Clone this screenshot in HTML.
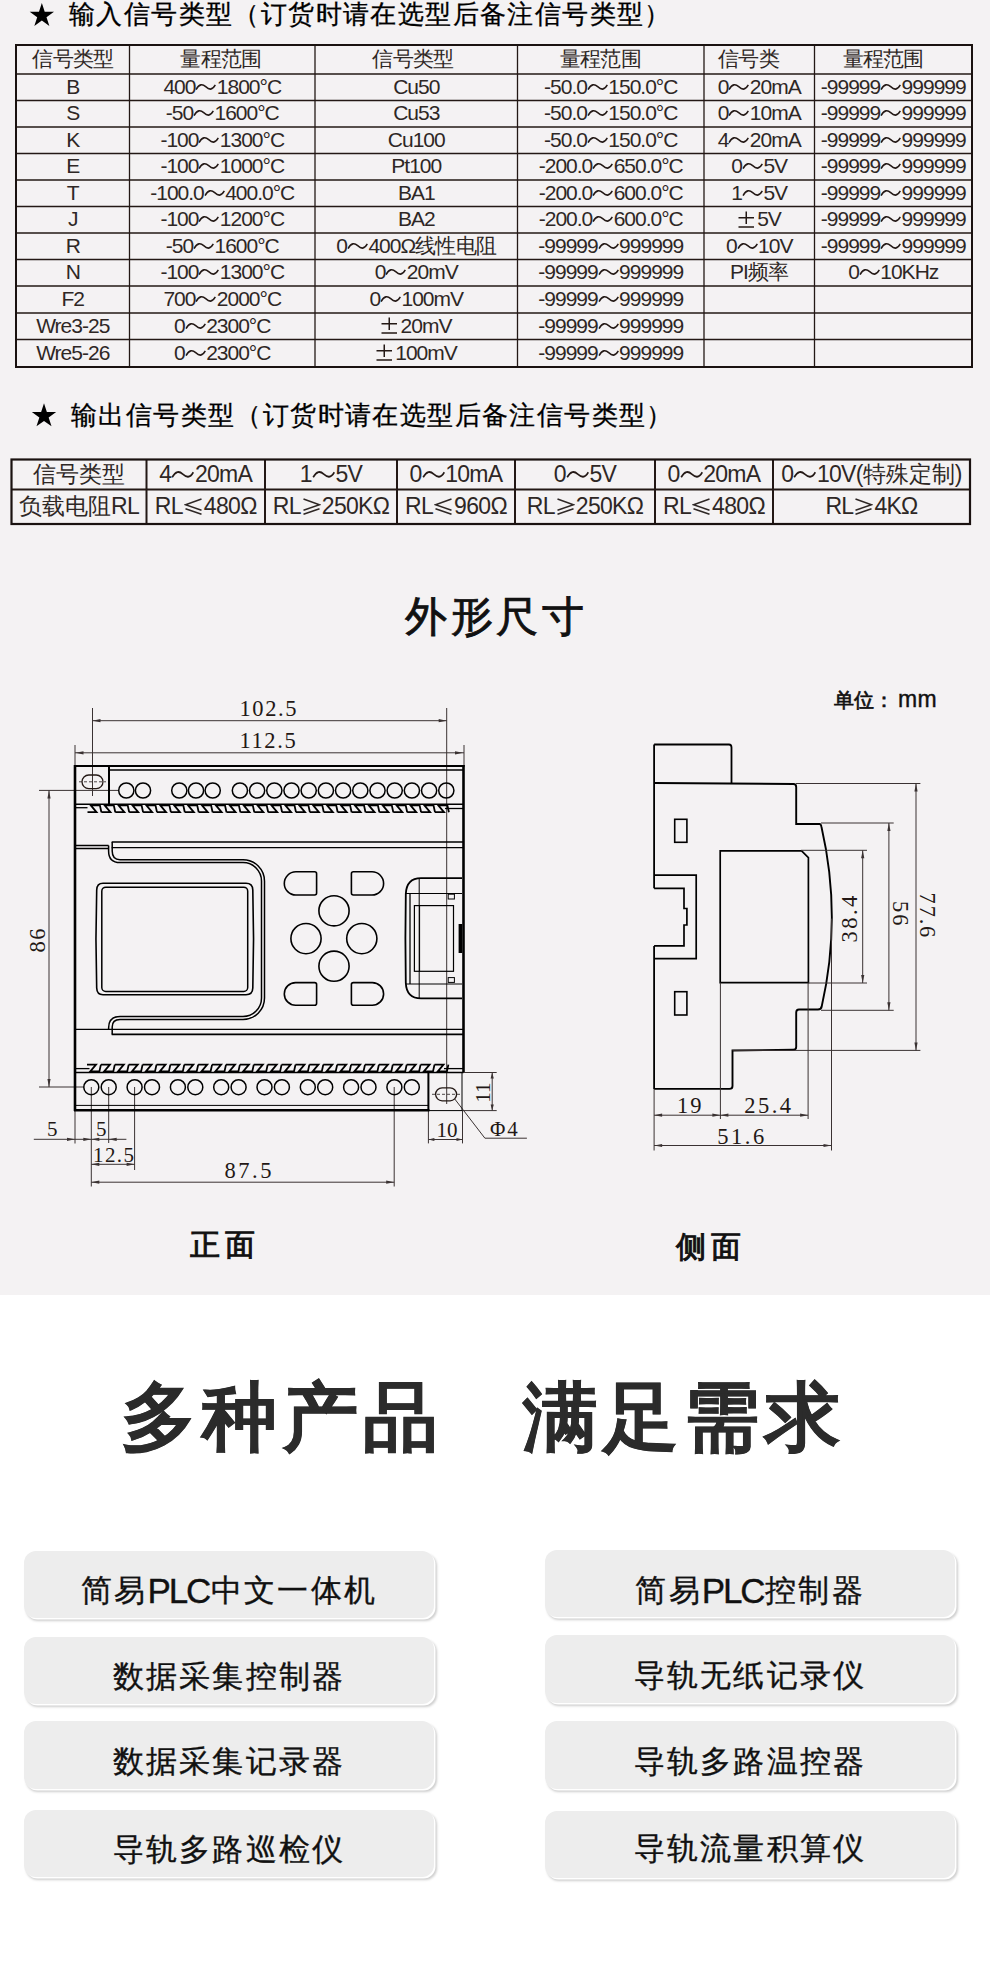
<!DOCTYPE html><html><head><meta charset="utf-8"><style>
html,body{margin:0;padding:0}
body{width:990px;height:1985px;position:relative;overflow:hidden;background:#fff;font-family:"Liberation Sans",sans-serif;color:#231815}
.a{position:absolute;white-space:nowrap}
.c{position:absolute;display:flex;align-items:center;justify-content:center;white-space:nowrap}
.t1{font-size:20px}
.w{display:inline-block;vertical-align:middle}
</style></head><body>
<svg width="0" height="0" style="position:absolute"><defs>
<path id="wv" d="M1 6.5 C4 1.5 7 1.5 10 4 S16 7.5 19 2.5" fill="none" stroke="#231815" stroke-width="1.4"/>
</defs></svg>

<div class="a" style="left:0;top:0;width:990px;height:1295px;background:#f4f2f3"></div>
<svg class="a" style="left:0;top:0" width="990" height="450"><polygon points="41.85,2.90 44.72,11.74 54.02,11.74 46.50,17.21 49.37,26.06 41.85,20.59 34.33,26.06 37.20,17.21 29.68,11.74 38.98,11.74" fill="#000"/></svg>
<div class="a" style="left:69px;top:1px;font-size:26px;line-height:26px;letter-spacing:1.4px;color:#000;-webkit-text-stroke:0.3px #000">输入信号类型（订货时请在选型后备注信号类型）</div>
<svg class="a" style="left:0;top:0" width="990" height="1295"><line x1="16" y1="74" x2="972" y2="74" stroke="#231815" stroke-width="1.3"/><line x1="16" y1="100.5" x2="972" y2="100.5" stroke="#231815" stroke-width="1.3"/><line x1="16" y1="127" x2="972" y2="127" stroke="#231815" stroke-width="1.3"/><line x1="16" y1="153.5" x2="972" y2="153.5" stroke="#231815" stroke-width="1.3"/><line x1="16" y1="180" x2="972" y2="180" stroke="#231815" stroke-width="1.3"/><line x1="16" y1="206.5" x2="972" y2="206.5" stroke="#231815" stroke-width="1.3"/><line x1="16" y1="233" x2="972" y2="233" stroke="#231815" stroke-width="1.3"/><line x1="16" y1="259.5" x2="972" y2="259.5" stroke="#231815" stroke-width="1.3"/><line x1="16" y1="286" x2="972" y2="286" stroke="#231815" stroke-width="1.3"/><line x1="16" y1="313" x2="972" y2="313" stroke="#231815" stroke-width="1.3"/><line x1="16" y1="339.5" x2="972" y2="339.5" stroke="#231815" stroke-width="1.3"/><line x1="129.5" y1="45" x2="129.5" y2="367" stroke="#231815" stroke-width="1.3"/><line x1="315" y1="45" x2="315" y2="367" stroke="#231815" stroke-width="1.3"/><line x1="517.5" y1="45" x2="517.5" y2="367" stroke="#231815" stroke-width="1.3"/><line x1="704" y1="45" x2="704" y2="367" stroke="#231815" stroke-width="1.3"/><line x1="814.5" y1="45" x2="814.5" y2="367" stroke="#231815" stroke-width="1.3"/><rect x="16" y="45" width="956" height="322" fill="none" stroke="#1a1210" stroke-width="2.0"/></svg>
<div class="c" style="left:16px;top:44.5px;width:113.5px;height:29px;font-size:21px;letter-spacing:-1px;color:#2e2725;"><span style="font-size:21px;letter-spacing:-0.75px">信号类型</span></div>
<div class="c" style="left:129.5px;top:44.5px;width:185.5px;height:29px;font-size:21px;letter-spacing:-1px;color:#2e2725;transform:translateX(-1.5px)"><span style="font-size:21px;letter-spacing:-0.75px">量程范围</span></div>
<div class="c" style="left:315px;top:44.5px;width:202.5px;height:29px;font-size:21px;letter-spacing:-1px;color:#2e2725;transform:translateX(-3.5px)"><span style="font-size:21px;letter-spacing:-0.75px">信号类型</span></div>
<div class="c" style="left:517.5px;top:44.5px;width:186.5px;height:29px;font-size:21px;letter-spacing:-1px;color:#2e2725;transform:translateX(-10.5px)"><span style="font-size:21px;letter-spacing:-0.75px">量程范围</span></div>
<div class="c" style="left:704px;top:44.5px;width:110.5px;height:29px;font-size:21px;letter-spacing:-1px;color:#2e2725;justify-content:flex-start;padding-left:14px;box-sizing:border-box"><span style="font-size:21px;letter-spacing:-0.75px">信号类</span></div>
<div class="c" style="left:814.5px;top:44.5px;width:157.5px;height:29px;font-size:21px;letter-spacing:-1px;color:#2e2725;transform:translateX(-10.2px)"><span style="font-size:21px;letter-spacing:-0.75px">量程范围</span></div>
<div class="c" style="left:16px;top:73.5px;width:113.5px;height:26.5px;font-size:21px;letter-spacing:-1px;color:#2e2725;">B</div>
<div class="c" style="left:129.5px;top:73.5px;width:185.5px;height:26.5px;font-size:21px;letter-spacing:-1px;color:#2e2725;">400<svg class="w" width="21.4" height="10.5" viewBox="0 0 20 9" preserveAspectRatio="none"><use href="#wv"/></svg>1800°C</div>
<div class="c" style="left:315px;top:73.5px;width:202.5px;height:26.5px;font-size:21px;letter-spacing:-1px;color:#2e2725;">Cu50</div>
<div class="c" style="left:517.5px;top:73.5px;width:186.5px;height:26.5px;font-size:21px;letter-spacing:-1px;color:#2e2725;">-50.0<svg class="w" width="21.4" height="10.5" viewBox="0 0 20 9" preserveAspectRatio="none"><use href="#wv"/></svg>150.0°C</div>
<div class="c" style="left:704px;top:73.5px;width:110.5px;height:26.5px;font-size:21px;letter-spacing:-1px;color:#2e2725;">0<svg class="w" width="21.4" height="10.5" viewBox="0 0 20 9" preserveAspectRatio="none"><use href="#wv"/></svg>20mA</div>
<div class="c" style="left:814.5px;top:73.5px;width:157.5px;height:26.5px;font-size:21px;letter-spacing:-1px;color:#2e2725;">-99999<svg class="w" width="21.4" height="10.5" viewBox="0 0 20 9" preserveAspectRatio="none"><use href="#wv"/></svg>999999</div>
<div class="c" style="left:16px;top:100.0px;width:113.5px;height:26.5px;font-size:21px;letter-spacing:-1px;color:#2e2725;">S</div>
<div class="c" style="left:129.5px;top:100.0px;width:185.5px;height:26.5px;font-size:21px;letter-spacing:-1px;color:#2e2725;">-50<svg class="w" width="21.4" height="10.5" viewBox="0 0 20 9" preserveAspectRatio="none"><use href="#wv"/></svg>1600°C</div>
<div class="c" style="left:315px;top:100.0px;width:202.5px;height:26.5px;font-size:21px;letter-spacing:-1px;color:#2e2725;">Cu53</div>
<div class="c" style="left:517.5px;top:100.0px;width:186.5px;height:26.5px;font-size:21px;letter-spacing:-1px;color:#2e2725;">-50.0<svg class="w" width="21.4" height="10.5" viewBox="0 0 20 9" preserveAspectRatio="none"><use href="#wv"/></svg>150.0°C</div>
<div class="c" style="left:704px;top:100.0px;width:110.5px;height:26.5px;font-size:21px;letter-spacing:-1px;color:#2e2725;">0<svg class="w" width="21.4" height="10.5" viewBox="0 0 20 9" preserveAspectRatio="none"><use href="#wv"/></svg>10mA</div>
<div class="c" style="left:814.5px;top:100.0px;width:157.5px;height:26.5px;font-size:21px;letter-spacing:-1px;color:#2e2725;">-99999<svg class="w" width="21.4" height="10.5" viewBox="0 0 20 9" preserveAspectRatio="none"><use href="#wv"/></svg>999999</div>
<div class="c" style="left:16px;top:126.5px;width:113.5px;height:26.5px;font-size:21px;letter-spacing:-1px;color:#2e2725;">K</div>
<div class="c" style="left:129.5px;top:126.5px;width:185.5px;height:26.5px;font-size:21px;letter-spacing:-1px;color:#2e2725;">-100<svg class="w" width="21.4" height="10.5" viewBox="0 0 20 9" preserveAspectRatio="none"><use href="#wv"/></svg>1300°C</div>
<div class="c" style="left:315px;top:126.5px;width:202.5px;height:26.5px;font-size:21px;letter-spacing:-1px;color:#2e2725;">Cu100</div>
<div class="c" style="left:517.5px;top:126.5px;width:186.5px;height:26.5px;font-size:21px;letter-spacing:-1px;color:#2e2725;">-50.0<svg class="w" width="21.4" height="10.5" viewBox="0 0 20 9" preserveAspectRatio="none"><use href="#wv"/></svg>150.0°C</div>
<div class="c" style="left:704px;top:126.5px;width:110.5px;height:26.5px;font-size:21px;letter-spacing:-1px;color:#2e2725;">4<svg class="w" width="21.4" height="10.5" viewBox="0 0 20 9" preserveAspectRatio="none"><use href="#wv"/></svg>20mA</div>
<div class="c" style="left:814.5px;top:126.5px;width:157.5px;height:26.5px;font-size:21px;letter-spacing:-1px;color:#2e2725;">-99999<svg class="w" width="21.4" height="10.5" viewBox="0 0 20 9" preserveAspectRatio="none"><use href="#wv"/></svg>999999</div>
<div class="c" style="left:16px;top:153.0px;width:113.5px;height:26.5px;font-size:21px;letter-spacing:-1px;color:#2e2725;">E</div>
<div class="c" style="left:129.5px;top:153.0px;width:185.5px;height:26.5px;font-size:21px;letter-spacing:-1px;color:#2e2725;">-100<svg class="w" width="21.4" height="10.5" viewBox="0 0 20 9" preserveAspectRatio="none"><use href="#wv"/></svg>1000°C</div>
<div class="c" style="left:315px;top:153.0px;width:202.5px;height:26.5px;font-size:21px;letter-spacing:-1px;color:#2e2725;">Pt100</div>
<div class="c" style="left:517.5px;top:153.0px;width:186.5px;height:26.5px;font-size:21px;letter-spacing:-1px;color:#2e2725;">-200.0<svg class="w" width="21.4" height="10.5" viewBox="0 0 20 9" preserveAspectRatio="none"><use href="#wv"/></svg>650.0°C</div>
<div class="c" style="left:704px;top:153.0px;width:110.5px;height:26.5px;font-size:21px;letter-spacing:-1px;color:#2e2725;">0<svg class="w" width="21.4" height="10.5" viewBox="0 0 20 9" preserveAspectRatio="none"><use href="#wv"/></svg>5V</div>
<div class="c" style="left:814.5px;top:153.0px;width:157.5px;height:26.5px;font-size:21px;letter-spacing:-1px;color:#2e2725;">-99999<svg class="w" width="21.4" height="10.5" viewBox="0 0 20 9" preserveAspectRatio="none"><use href="#wv"/></svg>999999</div>
<div class="c" style="left:16px;top:179.5px;width:113.5px;height:26.5px;font-size:21px;letter-spacing:-1px;color:#2e2725;">T</div>
<div class="c" style="left:129.5px;top:179.5px;width:185.5px;height:26.5px;font-size:21px;letter-spacing:-1px;color:#2e2725;">-100.0<svg class="w" width="21.4" height="10.5" viewBox="0 0 20 9" preserveAspectRatio="none"><use href="#wv"/></svg>400.0°C</div>
<div class="c" style="left:315px;top:179.5px;width:202.5px;height:26.5px;font-size:21px;letter-spacing:-1px;color:#2e2725;">BA1</div>
<div class="c" style="left:517.5px;top:179.5px;width:186.5px;height:26.5px;font-size:21px;letter-spacing:-1px;color:#2e2725;">-200.0<svg class="w" width="21.4" height="10.5" viewBox="0 0 20 9" preserveAspectRatio="none"><use href="#wv"/></svg>600.0°C</div>
<div class="c" style="left:704px;top:179.5px;width:110.5px;height:26.5px;font-size:21px;letter-spacing:-1px;color:#2e2725;">1<svg class="w" width="21.4" height="10.5" viewBox="0 0 20 9" preserveAspectRatio="none"><use href="#wv"/></svg>5V</div>
<div class="c" style="left:814.5px;top:179.5px;width:157.5px;height:26.5px;font-size:21px;letter-spacing:-1px;color:#2e2725;">-99999<svg class="w" width="21.4" height="10.5" viewBox="0 0 20 9" preserveAspectRatio="none"><use href="#wv"/></svg>999999</div>
<div class="c" style="left:16px;top:206.0px;width:113.5px;height:26.5px;font-size:21px;letter-spacing:-1px;color:#2e2725;">J</div>
<div class="c" style="left:129.5px;top:206.0px;width:185.5px;height:26.5px;font-size:21px;letter-spacing:-1px;color:#2e2725;">-100<svg class="w" width="21.4" height="10.5" viewBox="0 0 20 9" preserveAspectRatio="none"><use href="#wv"/></svg>1200°C</div>
<div class="c" style="left:315px;top:206.0px;width:202.5px;height:26.5px;font-size:21px;letter-spacing:-1px;color:#2e2725;">BA2</div>
<div class="c" style="left:517.5px;top:206.0px;width:186.5px;height:26.5px;font-size:21px;letter-spacing:-1px;color:#2e2725;">-200.0<svg class="w" width="21.4" height="10.5" viewBox="0 0 20 9" preserveAspectRatio="none"><use href="#wv"/></svg>600.0°C</div>
<div class="c" style="left:704px;top:206.0px;width:110.5px;height:26.5px;font-size:21px;letter-spacing:-1px;color:#2e2725;"><svg class="pm" width="16.5" height="17" style="vertical-align:-1.5px;margin-right:3px" viewBox="0 0 16.5 17"><path d="M0.5 6.8 H16 M8.25 0.5 V13 M0.5 16 H16" stroke="#231815" stroke-width="1.5" fill="none"/></svg>5V</div>
<div class="c" style="left:814.5px;top:206.0px;width:157.5px;height:26.5px;font-size:21px;letter-spacing:-1px;color:#2e2725;">-99999<svg class="w" width="21.4" height="10.5" viewBox="0 0 20 9" preserveAspectRatio="none"><use href="#wv"/></svg>999999</div>
<div class="c" style="left:16px;top:232.5px;width:113.5px;height:26.5px;font-size:21px;letter-spacing:-1px;color:#2e2725;">R</div>
<div class="c" style="left:129.5px;top:232.5px;width:185.5px;height:26.5px;font-size:21px;letter-spacing:-1px;color:#2e2725;">-50<svg class="w" width="21.4" height="10.5" viewBox="0 0 20 9" preserveAspectRatio="none"><use href="#wv"/></svg>1600°C</div>
<div class="c" style="left:315px;top:232.5px;width:202.5px;height:26.5px;font-size:21px;letter-spacing:-1px;color:#2e2725;">0<svg class="w" width="21.4" height="10.5" viewBox="0 0 20 9" preserveAspectRatio="none"><use href="#wv"/></svg>400Ω<span style="font-size:21px;letter-spacing:-0.75px">线性电阻</span></div>
<div class="c" style="left:517.5px;top:232.5px;width:186.5px;height:26.5px;font-size:21px;letter-spacing:-1px;color:#2e2725;">-99999<svg class="w" width="21.4" height="10.5" viewBox="0 0 20 9" preserveAspectRatio="none"><use href="#wv"/></svg>999999</div>
<div class="c" style="left:704px;top:232.5px;width:110.5px;height:26.5px;font-size:21px;letter-spacing:-1px;color:#2e2725;">0<svg class="w" width="21.4" height="10.5" viewBox="0 0 20 9" preserveAspectRatio="none"><use href="#wv"/></svg>10V</div>
<div class="c" style="left:814.5px;top:232.5px;width:157.5px;height:26.5px;font-size:21px;letter-spacing:-1px;color:#2e2725;">-99999<svg class="w" width="21.4" height="10.5" viewBox="0 0 20 9" preserveAspectRatio="none"><use href="#wv"/></svg>999999</div>
<div class="c" style="left:16px;top:259.0px;width:113.5px;height:26.5px;font-size:21px;letter-spacing:-1px;color:#2e2725;">N</div>
<div class="c" style="left:129.5px;top:259.0px;width:185.5px;height:26.5px;font-size:21px;letter-spacing:-1px;color:#2e2725;">-100<svg class="w" width="21.4" height="10.5" viewBox="0 0 20 9" preserveAspectRatio="none"><use href="#wv"/></svg>1300°C</div>
<div class="c" style="left:315px;top:259.0px;width:202.5px;height:26.5px;font-size:21px;letter-spacing:-1px;color:#2e2725;">0<svg class="w" width="21.4" height="10.5" viewBox="0 0 20 9" preserveAspectRatio="none"><use href="#wv"/></svg>20mV</div>
<div class="c" style="left:517.5px;top:259.0px;width:186.5px;height:26.5px;font-size:21px;letter-spacing:-1px;color:#2e2725;">-99999<svg class="w" width="21.4" height="10.5" viewBox="0 0 20 9" preserveAspectRatio="none"><use href="#wv"/></svg>999999</div>
<div class="c" style="left:704px;top:259.0px;width:110.5px;height:26.5px;font-size:21px;letter-spacing:-1px;color:#2e2725;">PI<span style="font-size:21px;letter-spacing:-0.75px">频率</span></div>
<div class="c" style="left:814.5px;top:259.0px;width:157.5px;height:26.5px;font-size:21px;letter-spacing:-1px;color:#2e2725;">0<svg class="w" width="21.4" height="10.5" viewBox="0 0 20 9" preserveAspectRatio="none"><use href="#wv"/></svg>10KHz</div>
<div class="c" style="left:16px;top:285.5px;width:113.5px;height:27px;font-size:21px;letter-spacing:-1px;color:#2e2725;">F2</div>
<div class="c" style="left:129.5px;top:285.5px;width:185.5px;height:27px;font-size:21px;letter-spacing:-1px;color:#2e2725;">700<svg class="w" width="21.4" height="10.5" viewBox="0 0 20 9" preserveAspectRatio="none"><use href="#wv"/></svg>2000°C</div>
<div class="c" style="left:315px;top:285.5px;width:202.5px;height:27px;font-size:21px;letter-spacing:-1px;color:#2e2725;">0<svg class="w" width="21.4" height="10.5" viewBox="0 0 20 9" preserveAspectRatio="none"><use href="#wv"/></svg>100mV</div>
<div class="c" style="left:517.5px;top:285.5px;width:186.5px;height:27px;font-size:21px;letter-spacing:-1px;color:#2e2725;">-99999<svg class="w" width="21.4" height="10.5" viewBox="0 0 20 9" preserveAspectRatio="none"><use href="#wv"/></svg>999999</div>
<div class="c" style="left:16px;top:312.5px;width:113.5px;height:26.5px;font-size:21px;letter-spacing:-1px;color:#2e2725;">Wre3-25</div>
<div class="c" style="left:129.5px;top:312.5px;width:185.5px;height:26.5px;font-size:21px;letter-spacing:-1px;color:#2e2725;">0<svg class="w" width="21.4" height="10.5" viewBox="0 0 20 9" preserveAspectRatio="none"><use href="#wv"/></svg>2300°C</div>
<div class="c" style="left:315px;top:312.5px;width:202.5px;height:26.5px;font-size:21px;letter-spacing:-1px;color:#2e2725;"><svg class="pm" width="16.5" height="17" style="vertical-align:-1.5px;margin-right:3px" viewBox="0 0 16.5 17"><path d="M0.5 6.8 H16 M8.25 0.5 V13 M0.5 16 H16" stroke="#231815" stroke-width="1.5" fill="none"/></svg>20mV</div>
<div class="c" style="left:517.5px;top:312.5px;width:186.5px;height:26.5px;font-size:21px;letter-spacing:-1px;color:#2e2725;">-99999<svg class="w" width="21.4" height="10.5" viewBox="0 0 20 9" preserveAspectRatio="none"><use href="#wv"/></svg>999999</div>
<div class="c" style="left:16px;top:339.0px;width:113.5px;height:27.5px;font-size:21px;letter-spacing:-1px;color:#2e2725;">Wre5-26</div>
<div class="c" style="left:129.5px;top:339.0px;width:185.5px;height:27.5px;font-size:21px;letter-spacing:-1px;color:#2e2725;">0<svg class="w" width="21.4" height="10.5" viewBox="0 0 20 9" preserveAspectRatio="none"><use href="#wv"/></svg>2300°C</div>
<div class="c" style="left:315px;top:339.0px;width:202.5px;height:27.5px;font-size:21px;letter-spacing:-1px;color:#2e2725;"><svg class="pm" width="16.5" height="17" style="vertical-align:-1.5px;margin-right:3px" viewBox="0 0 16.5 17"><path d="M0.5 6.8 H16 M8.25 0.5 V13 M0.5 16 H16" stroke="#231815" stroke-width="1.5" fill="none"/></svg>100mV</div>
<div class="c" style="left:517.5px;top:339.0px;width:186.5px;height:27.5px;font-size:21px;letter-spacing:-1px;color:#2e2725;">-99999<svg class="w" width="21.4" height="10.5" viewBox="0 0 20 9" preserveAspectRatio="none"><use href="#wv"/></svg>999999</div>
<svg class="a" style="left:0;top:0" width="990" height="450"><polygon points="44.00,403.20 46.87,412.04 56.17,412.04 48.65,417.51 51.52,426.36 44.00,420.89 36.48,426.36 39.35,417.51 31.83,412.04 41.13,412.04" fill="#000"/></svg>
<div class="a" style="left:71px;top:402px;font-size:26px;line-height:26px;letter-spacing:1.4px;color:#000;-webkit-text-stroke:0.3px #000">输出信号类型（订货时请在选型后备注信号类型）</div>
<svg class="a" style="left:0;top:0" width="990" height="1295"><line x1="11.5" y1="489.5" x2="970" y2="489.5" stroke="#231815" stroke-width="2.0"/><line x1="146.5" y1="459.5" x2="146.5" y2="524" stroke="#231815" stroke-width="2.0"/><line x1="265" y1="459.5" x2="265" y2="524" stroke="#231815" stroke-width="2.0"/><line x1="397" y1="459.5" x2="397" y2="524" stroke="#231815" stroke-width="2.0"/><line x1="515" y1="459.5" x2="515" y2="524" stroke="#231815" stroke-width="2.0"/><line x1="655" y1="459.5" x2="655" y2="524" stroke="#231815" stroke-width="2.0"/><line x1="773" y1="459.5" x2="773" y2="524" stroke="#231815" stroke-width="2.0"/><rect x="11.5" y="459.5" width="958.5" height="64.5" fill="none" stroke="#1a1210" stroke-width="2.2"/></svg>
<div class="c" style="left:11.5px;top:459.5px;width:135.0px;height:30.0px;font-size:23px;letter-spacing:-0.7px;color:#2e2725;"><span style="font-size:23px;letter-spacing:0px">信号类型</span></div>
<div class="c" style="left:146.5px;top:459.5px;width:118.5px;height:30.0px;font-size:23px;letter-spacing:-0.7px;color:#2e2725;">4<svg class="w" width="23.5" height="11.5" viewBox="0 0 20 9" preserveAspectRatio="none"><use href="#wv"/></svg>20mA</div>
<div class="c" style="left:265px;top:459.5px;width:132px;height:30.0px;font-size:23px;letter-spacing:-0.7px;color:#2e2725;">1<svg class="w" width="23.5" height="11.5" viewBox="0 0 20 9" preserveAspectRatio="none"><use href="#wv"/></svg>5V</div>
<div class="c" style="left:397px;top:459.5px;width:118px;height:30.0px;font-size:23px;letter-spacing:-0.7px;color:#2e2725;">0<svg class="w" width="23.5" height="11.5" viewBox="0 0 20 9" preserveAspectRatio="none"><use href="#wv"/></svg>10mA</div>
<div class="c" style="left:515px;top:459.5px;width:140px;height:30.0px;font-size:23px;letter-spacing:-0.7px;color:#2e2725;">0<svg class="w" width="23.5" height="11.5" viewBox="0 0 20 9" preserveAspectRatio="none"><use href="#wv"/></svg>5V</div>
<div class="c" style="left:655px;top:459.5px;width:118px;height:30.0px;font-size:23px;letter-spacing:-0.7px;color:#2e2725;">0<svg class="w" width="23.5" height="11.5" viewBox="0 0 20 9" preserveAspectRatio="none"><use href="#wv"/></svg>20mA</div>
<div class="c" style="left:773px;top:459.5px;width:197px;height:30.0px;font-size:23px;letter-spacing:-0.7px;color:#2e2725;">0<svg class="w" width="23.5" height="11.5" viewBox="0 0 20 9" preserveAspectRatio="none"><use href="#wv"/></svg>10V(<span style="font-size:23px;letter-spacing:0px">特殊定制</span>)</div>
<div class="c" style="left:11.5px;top:489.5px;width:135.0px;height:34.5px;font-size:23px;letter-spacing:-0.7px;color:#2e2725;"><span style="font-size:23px;letter-spacing:0px">负载电阻</span>RL</div>
<div class="c" style="left:146.5px;top:489.5px;width:118.5px;height:34.5px;font-size:23px;letter-spacing:-0.7px;color:#2e2725;">RL<svg width="19" height="17.5" style="vertical-align:-1.5px;margin:0 1px" viewBox="0 0 19 17.5"><path d="M17.5 1 L1.5 6.8 L17.5 12.2 M1.5 10.8 L17.5 16.3" stroke="#2e2725" stroke-width="1.5" fill="none"/></svg>480Ω</div>
<div class="c" style="left:265px;top:489.5px;width:132px;height:34.5px;font-size:23px;letter-spacing:-0.7px;color:#2e2725;">RL<svg width="19" height="17.5" style="vertical-align:-1.5px;margin:0 1px" viewBox="0 0 19 17.5"><path d="M1.5 1 L17.5 6.8 L1.5 12.2 M17.5 10.8 L1.5 16.3" stroke="#2e2725" stroke-width="1.5" fill="none"/></svg>250KΩ</div>
<div class="c" style="left:397px;top:489.5px;width:118px;height:34.5px;font-size:23px;letter-spacing:-0.7px;color:#2e2725;">RL<svg width="19" height="17.5" style="vertical-align:-1.5px;margin:0 1px" viewBox="0 0 19 17.5"><path d="M17.5 1 L1.5 6.8 L17.5 12.2 M1.5 10.8 L17.5 16.3" stroke="#2e2725" stroke-width="1.5" fill="none"/></svg>960Ω</div>
<div class="c" style="left:515px;top:489.5px;width:140px;height:34.5px;font-size:23px;letter-spacing:-0.7px;color:#2e2725;">RL<svg width="19" height="17.5" style="vertical-align:-1.5px;margin:0 1px" viewBox="0 0 19 17.5"><path d="M1.5 1 L17.5 6.8 L1.5 12.2 M17.5 10.8 L1.5 16.3" stroke="#2e2725" stroke-width="1.5" fill="none"/></svg>250KΩ</div>
<div class="c" style="left:655px;top:489.5px;width:118px;height:34.5px;font-size:23px;letter-spacing:-0.7px;color:#2e2725;">RL<svg width="19" height="17.5" style="vertical-align:-1.5px;margin:0 1px" viewBox="0 0 19 17.5"><path d="M17.5 1 L1.5 6.8 L17.5 12.2 M1.5 10.8 L17.5 16.3" stroke="#2e2725" stroke-width="1.5" fill="none"/></svg>480Ω</div>
<div class="c" style="left:773px;top:489.5px;width:197px;height:34.5px;font-size:23px;letter-spacing:-0.7px;color:#2e2725;">RL<svg width="19" height="17.5" style="vertical-align:-1.5px;margin:0 1px" viewBox="0 0 19 17.5"><path d="M1.5 1 L17.5 6.8 L1.5 12.2 M17.5 10.8 L1.5 16.3" stroke="#2e2725" stroke-width="1.5" fill="none"/></svg>4KΩ</div>
<svg class="a" style="left:0;top:0" width="990" height="1295"><line x1="92.5" y1="708" x2="92.5" y2="796" stroke="#3a3232" stroke-width="1.0"/><line x1="446.7" y1="708" x2="446.7" y2="1104" stroke="#3a3232" stroke-width="1.0"/><line x1="92.5" y1="720.7" x2="446.7" y2="720.7" stroke="#3a3232" stroke-width="1.0"/><polygon points="92.5,720.7 100.5,719.1 100.5,722.3000000000001" fill="#3a3232"/><polygon points="446.7,720.7 438.7,719.1 438.7,722.3000000000001" fill="#3a3232"/><text x="239.5" y="715.5" font-family="Liberation Serif" font-size="22.5" fill="#231815" text-anchor="start" letter-spacing="1.6">102.5</text><line x1="75" y1="745" x2="75" y2="766" stroke="#3a3232" stroke-width="1.0"/><line x1="464" y1="745" x2="464" y2="766" stroke="#3a3232" stroke-width="1.0"/><line x1="75" y1="752.8" x2="464" y2="752.8" stroke="#3a3232" stroke-width="1.0"/><polygon points="75.5,752.8 83.5,751.1999999999999 83.5,754.4" fill="#3a3232"/><polygon points="463,752.8 455,751.1999999999999 455,754.4" fill="#3a3232"/><text x="239.5" y="748.3" font-family="Liberation Serif" font-size="22.5" fill="#231815" text-anchor="start" letter-spacing="1.6">112.5</text><line x1="39" y1="790.4" x2="118.5" y2="790.4" stroke="#3a3232" stroke-width="1.0"/><line x1="39" y1="1087" x2="84" y2="1087" stroke="#3a3232" stroke-width="1.0"/><line x1="49" y1="790.4" x2="49" y2="1087" stroke="#3a3232" stroke-width="1.0"/><polygon points="49,790.4 47.4,798.4 50.6,798.4" fill="#3a3232"/><polygon points="49,1087 47.4,1079 50.6,1079" fill="#3a3232"/><text x="44.8" y="952.5" font-family="Liberation Serif" font-size="22.5" fill="#231815" text-anchor="start" letter-spacing="1.5" transform="rotate(-90 44.8 952.5)">86</text><line x1="75" y1="1110" x2="75" y2="1143.5" stroke="#3a3232" stroke-width="1.0"/><line x1="91.3" y1="1087" x2="91.3" y2="1186.5" stroke="#3a3232" stroke-width="1.0"/><line x1="108.7" y1="1087" x2="108.7" y2="1143" stroke="#3a3232" stroke-width="1.0"/><line x1="134.6" y1="1087" x2="134.6" y2="1170" stroke="#3a3232" stroke-width="1.0"/><line x1="394.2" y1="1087" x2="394.2" y2="1186.5" stroke="#3a3232" stroke-width="1.0"/><line x1="33.8" y1="1139.3" x2="126.4" y2="1139.3" stroke="#3a3232" stroke-width="1.0"/><polygon points="75,1139.3 67,1137.7 67,1140.8999999999999" fill="#3a3232"/><polygon points="91.3,1139.3 83.3,1137.7 83.3,1140.8999999999999" fill="#3a3232"/><polygon points="91.3,1139.3 99.3,1137.7 99.3,1140.8999999999999" fill="#3a3232"/><polygon points="108.7,1139.3 116.7,1137.7 116.7,1140.8999999999999" fill="#3a3232"/><text x="47" y="1136.3" font-family="Liberation Serif" font-size="21" fill="#231815" text-anchor="start" letter-spacing="0">5</text><text x="96" y="1136.3" font-family="Liberation Serif" font-size="21" fill="#231815" text-anchor="start" letter-spacing="0">5</text><line x1="91.3" y1="1164.3" x2="134.6" y2="1164.3" stroke="#3a3232" stroke-width="1.0"/><polygon points="91.3,1164.3 99.3,1162.7 99.3,1165.8999999999999" fill="#3a3232"/><polygon points="134.6,1164.3 126.6,1162.7 126.6,1165.8999999999999" fill="#3a3232"/><text x="93" y="1161.9" font-family="Liberation Serif" font-size="21" fill="#231815" text-anchor="start" letter-spacing="1.4">12.5</text><line x1="91.3" y1="1182.2" x2="394.2" y2="1182.2" stroke="#3a3232" stroke-width="1.0"/><polygon points="91.3,1182.2 99.3,1180.6000000000001 99.3,1183.8" fill="#3a3232"/><polygon points="394.2,1182.2 386.2,1180.6000000000001 386.2,1183.8" fill="#3a3232"/><text x="224.5" y="1177.6" font-family="Liberation Serif" font-size="22.5" fill="#231815" text-anchor="start" letter-spacing="2.5">87.5</text><line x1="462" y1="1072.5" x2="496.7" y2="1072.5" stroke="#3a3232" stroke-width="1.0"/><line x1="462" y1="1110.6" x2="496.7" y2="1110.6" stroke="#3a3232" stroke-width="1.0"/><line x1="492.2" y1="1072.5" x2="492.2" y2="1110.6" stroke="#3a3232" stroke-width="1.0"/><polygon points="492.2,1072.5 490.59999999999997,1078.5 493.8,1078.5" fill="#3a3232"/><polygon points="492.2,1110.6 490.59999999999997,1104.6 493.8,1104.6" fill="#3a3232"/><text x="490" y="1102.7" font-family="Liberation Serif" font-size="21" fill="#231815" text-anchor="start" letter-spacing="0" transform="rotate(-90 490 1102.7)">11</text><line x1="428.4" y1="1110" x2="428.4" y2="1143.4" stroke="#3a3232" stroke-width="1.0"/><line x1="462.5" y1="1110" x2="462.5" y2="1143.4" stroke="#3a3232" stroke-width="1.0"/><line x1="428.4" y1="1139.5" x2="462.5" y2="1139.5" stroke="#3a3232" stroke-width="1.0"/><polygon points="428.4,1139.5 434.4,1137.9 434.4,1141.1" fill="#3a3232"/><polygon points="462.5,1139.5 456.5,1137.9 456.5,1141.1" fill="#3a3232"/><text x="436.5" y="1137" font-family="Liberation Serif" font-size="21" fill="#231815" text-anchor="start" letter-spacing="0">10</text><path d="M454.6 1098.8 L484.9 1138.2 L526.9 1138.2" stroke="#3a3232" stroke-width="1.0" fill="none"/><text x="490" y="1135.6" font-family="Liberation Serif" font-size="21" fill="#231815" text-anchor="start" letter-spacing="2">Φ4</text><line x1="75" y1="765" x2="75" y2="1111" stroke="#000" stroke-width="2.6"/><line x1="463.5" y1="765" x2="463.5" y2="1072" stroke="#000" stroke-width="2.6"/><line x1="74" y1="766" x2="464.5" y2="766" stroke="#000" stroke-width="2.0"/><line x1="109" y1="770" x2="463.5" y2="770" stroke="#000" stroke-width="1.3"/><line x1="109" y1="766" x2="109" y2="804" stroke="#000" stroke-width="2.0"/><rect x="82" y="775" width="21" height="13.6" rx="6.8" ry="6.8" fill="none" stroke="#231815" stroke-width="1.3"/><line x1="79" y1="781.8" x2="106" y2="781.8" stroke="#3a3232" stroke-width="0.9" stroke-dasharray="3 2"/><circle cx="126.3" cy="790.5" r="7.6" stroke="#000" stroke-width="1.5" fill="none"/><circle cx="143.0" cy="790.5" r="7.6" stroke="#000" stroke-width="1.5" fill="none"/><circle cx="179.3" cy="790.5" r="7.6" stroke="#000" stroke-width="1.5" fill="none"/><circle cx="196.0" cy="790.5" r="7.6" stroke="#000" stroke-width="1.5" fill="none"/><circle cx="212.7" cy="790.5" r="7.6" stroke="#000" stroke-width="1.5" fill="none"/><circle cx="239.9" cy="790.5" r="7.6" stroke="#000" stroke-width="1.5" fill="none"/><circle cx="257.1" cy="790.5" r="7.6" stroke="#000" stroke-width="1.5" fill="none"/><circle cx="274.3" cy="790.5" r="7.6" stroke="#000" stroke-width="1.5" fill="none"/><circle cx="291.5" cy="790.5" r="7.6" stroke="#000" stroke-width="1.5" fill="none"/><circle cx="308.7" cy="790.5" r="7.6" stroke="#000" stroke-width="1.5" fill="none"/><circle cx="325.9" cy="790.5" r="7.6" stroke="#000" stroke-width="1.5" fill="none"/><circle cx="343.1" cy="790.5" r="7.6" stroke="#000" stroke-width="1.5" fill="none"/><circle cx="360.3" cy="790.5" r="7.6" stroke="#000" stroke-width="1.5" fill="none"/><circle cx="377.5" cy="790.5" r="7.6" stroke="#000" stroke-width="1.5" fill="none"/><circle cx="394.7" cy="790.5" r="7.6" stroke="#000" stroke-width="1.5" fill="none"/><circle cx="411.9" cy="790.5" r="7.6" stroke="#000" stroke-width="1.5" fill="none"/><circle cx="429.1" cy="790.5" r="7.6" stroke="#000" stroke-width="1.5" fill="none"/><circle cx="446.29999999999995" cy="790.5" r="7.6" stroke="#000" stroke-width="1.5" fill="none"/><line x1="75" y1="804.2" x2="463.5" y2="804.2" stroke="#000" stroke-width="1.5"/><line x1="75" y1="807.7" x2="87.5" y2="807.7" stroke="#000" stroke-width="1.3"/><line x1="445" y1="808.5" x2="463.5" y2="808.5" stroke="#000" stroke-width="1.3"/><path d="M87.50,812.20 L96.50,812.20 L90.80,805.40 L99.90,805.40 L101.40,812.20 M101.40,812.20 L110.40,812.20 L104.70,805.40 L113.80,805.40 L115.30,812.20 M115.30,812.20 L124.30,812.20 L118.60,805.40 L127.70,805.40 L129.20,812.20 M129.20,812.20 L138.20,812.20 L132.50,805.40 L141.60,805.40 L143.10,812.20 M143.10,812.20 L152.10,812.20 L146.40,805.40 L155.50,805.40 L157.00,812.20 M157.00,812.20 L166.00,812.20 L160.30,805.40 L169.40,805.40 L170.90,812.20 M170.90,812.20 L179.90,812.20 L174.20,805.40 L183.30,805.40 L184.80,812.20 M184.80,812.20 L193.80,812.20 L188.10,805.40 L197.20,805.40 L198.70,812.20 M198.70,812.20 L207.70,812.20 L202.00,805.40 L211.10,805.40 L212.60,812.20 M212.60,812.20 L221.60,812.20 L215.90,805.40 L225.00,805.40 L226.50,812.20 M226.50,812.20 L235.50,812.20 L229.80,805.40 L238.90,805.40 L240.40,812.20 M240.40,812.20 L249.40,812.20 L243.70,805.40 L252.80,805.40 L254.30,812.20 M254.30,812.20 L263.30,812.20 L257.60,805.40 L266.70,805.40 L268.20,812.20 M268.20,812.20 L277.20,812.20 L271.50,805.40 L280.60,805.40 L282.10,812.20 M282.10,812.20 L291.10,812.20 L285.40,805.40 L294.50,805.40 L296.00,812.20 M296.00,812.20 L305.00,812.20 L299.30,805.40 L308.40,805.40 L309.90,812.20 M309.90,812.20 L318.90,812.20 L313.20,805.40 L322.30,805.40 L323.80,812.20 M323.80,812.20 L332.80,812.20 L327.10,805.40 L336.20,805.40 L337.70,812.20 M337.70,812.20 L346.70,812.20 L341.00,805.40 L350.10,805.40 L351.60,812.20 M351.60,812.20 L360.60,812.20 L354.90,805.40 L364.00,805.40 L365.50,812.20 M365.50,812.20 L374.50,812.20 L368.80,805.40 L377.90,805.40 L379.40,812.20 M379.40,812.20 L388.40,812.20 L382.70,805.40 L391.80,805.40 L393.30,812.20 M393.30,812.20 L402.30,812.20 L396.60,805.40 L405.70,805.40 L407.20,812.20 M407.20,812.20 L416.20,812.20 L410.50,805.40 L419.60,805.40 L421.10,812.20 M421.10,812.20 L430.10,812.20 L424.40,805.40 L433.50,805.40 L435.00,812.20 M435.00,812.20 L444.00,812.20 L438.30,805.40 L447.40,805.40 L448.90,812.20" fill="none" stroke="#000" stroke-width="1.8" stroke-linejoin="miter"/><line x1="75" y1="845.5" x2="108.6" y2="845.5" stroke="#000" stroke-width="1.3"/><line x1="75" y1="848.5" x2="108.6" y2="848.5" stroke="#000" stroke-width="1.3"/><line x1="111.7" y1="842" x2="463.5" y2="842" stroke="#000" stroke-width="1.6"/><line x1="111.7" y1="847.7" x2="463.5" y2="847.7" stroke="#000" stroke-width="1.3"/><path d="M112.2,842 L112.2,851 Q112.2,859.7 120,859.7 L243,859.7 A21.5,21.5 0 0 1 264.5,881.2 L264.5,998 A21.5,21.5 0 0 1 243,1019.5 L120,1019.5 Q112.2,1019.5 112.2,1027 L112.2,1034.4" stroke="#000" stroke-width="1.5" fill="none"/><path d="M108.6,845.5 L108.6,851 Q108.6,862.6 120,862.6 L243,862.6 A18.5,18.5 0 0 1 261.5,881.1 L261.5,998 A18.5,18.5 0 0 1 243,1016.5 L120,1016.5 Q108.6,1016.5 108.6,1028 L108.6,1030" stroke="#000" stroke-width="1.5" fill="none"/><line x1="75" y1="1029.3" x2="463.5" y2="1029.3" stroke="#000" stroke-width="1.3"/><line x1="111.7" y1="1034.4" x2="463.5" y2="1034.4" stroke="#000" stroke-width="1.6"/><path d="M103,883.3 L246,883.3 Q252.6,883.3 252.8,890 Q254.3,939 252.8,988 Q252.6,994.7 246,994.7 L103,994.7 Q96.9,994.7 96.7,988 Q95.2,939 96.7,890 Q96.9,883.3 103,883.3 Z" stroke="#000" stroke-width="1.6" fill="none"/><rect x="101.8" y="887.2" width="145.9" height="104.3" rx="4" fill="none" stroke="#000" stroke-width="1.5"/><path d="M314.6,871.8 L295.90000000000003,871.8 A11.600000000000023,11.600000000000023 0 0 0 295.90000000000003,895 L314.6,895 Q316.6,895 316.6,893 L316.6,873.8 Q316.6,871.8 314.6,871.8 Z" stroke="#000" stroke-width="1.6" fill="none"/><path d="M353.4,871.8 L372.0,871.8 A11.600000000000023,11.600000000000023 0 0 1 372.0,895 L353.4,895 Q351.4,895 351.4,893 L351.4,873.8 Q351.4,871.8 353.4,871.8 Z" stroke="#000" stroke-width="1.6" fill="none"/><path d="M314.6,982.6 L295.6,982.6 A11.300000000000011,11.300000000000011 0 0 0 295.6,1005.2 L314.6,1005.2 Q316.6,1005.2 316.6,1003.2 L316.6,984.6 Q316.6,982.6 314.6,982.6 Z" stroke="#000" stroke-width="1.6" fill="none"/><path d="M353.4,982.6 L372.3,982.6 A11.300000000000011,11.300000000000011 0 0 1 372.3,1005.2 L353.4,1005.2 Q351.4,1005.2 351.4,1003.2 L351.4,984.6 Q351.4,982.6 353.4,982.6 Z" stroke="#000" stroke-width="1.6" fill="none"/><circle cx="334" cy="910.8" r="15.1" stroke="#000" stroke-width="1.6" fill="none"/><circle cx="306" cy="938.6" r="15.1" stroke="#000" stroke-width="1.6" fill="none"/><circle cx="361.8" cy="938.6" r="15.1" stroke="#000" stroke-width="1.6" fill="none"/><circle cx="334" cy="966.2" r="15.1" stroke="#000" stroke-width="1.6" fill="none"/><path d="M462,878.2 L421,878.2 Q406.5,878.2 405.8,894 Q405,938 405.8,983 Q406.5,998.4 421,998.4 L462,998.4" stroke="#000" stroke-width="1.8" fill="none"/><line x1="410" y1="893.5" x2="410" y2="984" stroke="#000" stroke-width="1.3"/><line x1="419.2" y1="878.2" x2="419.2" y2="998.4" stroke="#000" stroke-width="1.0"/><line x1="405.8" y1="893.5" x2="462" y2="893.5" stroke="#000" stroke-width="1.0"/><line x1="405.8" y1="984" x2="462" y2="984" stroke="#000" stroke-width="1.0"/><rect x="414.4" y="905.6" width="39.1" height="65.7" fill="none" stroke="#000" stroke-width="1.2"/><line x1="419.6" y1="905.6" x2="419.6" y2="971.3" stroke="#000" stroke-width="1.0"/><rect x="448.2" y="894.2" width="6.2" height="4.8" fill="none" stroke="#000" stroke-width="1.0"/><rect x="448.2" y="977.6" width="6.2" height="4.8" fill="none" stroke="#000" stroke-width="1.0"/><rect x="458.6" y="924" width="3.6" height="29" fill="#000"/><line x1="75" y1="1068.6" x2="89.5" y2="1068.6" stroke="#000" stroke-width="1.3"/><line x1="444" y1="1068.6" x2="463.5" y2="1068.6" stroke="#000" stroke-width="1.3"/><path d="M87.00,1064.60 L96.00,1064.60 L90.30,1071.40 L99.40,1071.40 L100.90,1064.60 M100.90,1064.60 L109.90,1064.60 L104.20,1071.40 L113.30,1071.40 L114.80,1064.60 M114.80,1064.60 L123.80,1064.60 L118.10,1071.40 L127.20,1071.40 L128.70,1064.60 M128.70,1064.60 L137.70,1064.60 L132.00,1071.40 L141.10,1071.40 L142.60,1064.60 M142.60,1064.60 L151.60,1064.60 L145.90,1071.40 L155.00,1071.40 L156.50,1064.60 M156.50,1064.60 L165.50,1064.60 L159.80,1071.40 L168.90,1071.40 L170.40,1064.60 M170.40,1064.60 L179.40,1064.60 L173.70,1071.40 L182.80,1071.40 L184.30,1064.60 M184.30,1064.60 L193.30,1064.60 L187.60,1071.40 L196.70,1071.40 L198.20,1064.60 M198.20,1064.60 L207.20,1064.60 L201.50,1071.40 L210.60,1071.40 L212.10,1064.60 M212.10,1064.60 L221.10,1064.60 L215.40,1071.40 L224.50,1071.40 L226.00,1064.60 M226.00,1064.60 L235.00,1064.60 L229.30,1071.40 L238.40,1071.40 L239.90,1064.60 M239.90,1064.60 L248.90,1064.60 L243.20,1071.40 L252.30,1071.40 L253.80,1064.60 M253.80,1064.60 L262.80,1064.60 L257.10,1071.40 L266.20,1071.40 L267.70,1064.60 M267.70,1064.60 L276.70,1064.60 L271.00,1071.40 L280.10,1071.40 L281.60,1064.60 M281.60,1064.60 L290.60,1064.60 L284.90,1071.40 L294.00,1071.40 L295.50,1064.60 M295.50,1064.60 L304.50,1064.60 L298.80,1071.40 L307.90,1071.40 L309.40,1064.60 M309.40,1064.60 L318.40,1064.60 L312.70,1071.40 L321.80,1071.40 L323.30,1064.60 M323.30,1064.60 L332.30,1064.60 L326.60,1071.40 L335.70,1071.40 L337.20,1064.60 M337.20,1064.60 L346.20,1064.60 L340.50,1071.40 L349.60,1071.40 L351.10,1064.60 M351.10,1064.60 L360.10,1064.60 L354.40,1071.40 L363.50,1071.40 L365.00,1064.60 M365.00,1064.60 L374.00,1064.60 L368.30,1071.40 L377.40,1071.40 L378.90,1064.60 M378.90,1064.60 L387.90,1064.60 L382.20,1071.40 L391.30,1071.40 L392.80,1064.60 M392.80,1064.60 L401.80,1064.60 L396.10,1071.40 L405.20,1071.40 L406.70,1064.60 M406.70,1064.60 L415.70,1064.60 L410.00,1071.40 L419.10,1071.40 L420.60,1064.60 M420.60,1064.60 L429.60,1064.60 L423.90,1071.40 L433.00,1071.40 L434.50,1064.60 M434.50,1064.60 L443.50,1064.60 L437.80,1071.40 L446.90,1071.40 L448.40,1064.60" fill="none" stroke="#000" stroke-width="1.8" stroke-linejoin="miter"/><line x1="75" y1="1072.6" x2="463.5" y2="1072.6" stroke="#000" stroke-width="1.5"/><line x1="428.4" y1="1072.2" x2="428.4" y2="1111" stroke="#000" stroke-width="2.0"/><line x1="462" y1="1072.2" x2="462" y2="1110.6" stroke="#000" stroke-width="1.0"/><line x1="428.4" y1="1110.6" x2="462" y2="1110.6" stroke="#000" stroke-width="1.0"/><line x1="75" y1="1105.4" x2="428.4" y2="1105.4" stroke="#000" stroke-width="1.0"/><line x1="74" y1="1110.2" x2="429.4" y2="1110.2" stroke="#000" stroke-width="2.4"/><rect x="435.6" y="1087.8" width="21" height="13" rx="6.5" ry="6.5" fill="none" stroke="#231815" stroke-width="1.3"/><line x1="432" y1="1094.3" x2="460" y2="1094.3" stroke="#3a3232" stroke-width="0.9" stroke-dasharray="3 2"/><circle cx="91.3" cy="1087.2" r="7.5" stroke="#000" stroke-width="1.5" fill="none"/><circle cx="108.7" cy="1087.2" r="7.5" stroke="#000" stroke-width="1.5" fill="none"/><circle cx="134.6" cy="1087.2" r="7.5" stroke="#000" stroke-width="1.5" fill="none"/><circle cx="152.0" cy="1087.2" r="7.5" stroke="#000" stroke-width="1.5" fill="none"/><circle cx="177.89999999999998" cy="1087.2" r="7.5" stroke="#000" stroke-width="1.5" fill="none"/><circle cx="195.3" cy="1087.2" r="7.5" stroke="#000" stroke-width="1.5" fill="none"/><circle cx="221.2" cy="1087.2" r="7.5" stroke="#000" stroke-width="1.5" fill="none"/><circle cx="238.59999999999997" cy="1087.2" r="7.5" stroke="#000" stroke-width="1.5" fill="none"/><circle cx="264.5" cy="1087.2" r="7.5" stroke="#000" stroke-width="1.5" fill="none"/><circle cx="281.9" cy="1087.2" r="7.5" stroke="#000" stroke-width="1.5" fill="none"/><circle cx="307.8" cy="1087.2" r="7.5" stroke="#000" stroke-width="1.5" fill="none"/><circle cx="325.2" cy="1087.2" r="7.5" stroke="#000" stroke-width="1.5" fill="none"/><circle cx="351.09999999999997" cy="1087.2" r="7.5" stroke="#000" stroke-width="1.5" fill="none"/><circle cx="368.49999999999994" cy="1087.2" r="7.5" stroke="#000" stroke-width="1.5" fill="none"/><circle cx="394.4" cy="1087.2" r="7.5" stroke="#000" stroke-width="1.5" fill="none"/><circle cx="411.79999999999995" cy="1087.2" r="7.5" stroke="#000" stroke-width="1.5" fill="none"/><path d="M654.1,744.5 L729,744.5 Q731.5,744.5 731.5,747.5 L731.5,783" stroke="#000" stroke-width="1.8" fill="none"/><path d="M654.1,783 L793.5,784 Q796.2,784 796.2,787 L796.2,824 L819.5,824 Q821,824 821.5,827 Q842,916.6 821.8,1006 Q821.3,1009.5 818,1009.5 L799,1009.5 Q796.2,1009.5 796.2,1012.5 L796.2,1047 Q796.2,1049.8 793,1049.8 L732.5,1050.5 L732.5,1086 Q732.5,1088.9 729.5,1088.9 L654.1,1088.9" stroke="#000" stroke-width="1.9" fill="none"/><line x1="654.1" y1="744.5" x2="654.1" y2="888.3" stroke="#000" stroke-width="1.8"/><line x1="654.1" y1="945.9" x2="654.1" y2="1089" stroke="#000" stroke-width="1.8"/><path d="M654.1,875.2 L696.2,875.2 L696.2,958.6 L654.1,958.6" stroke="#000" stroke-width="1.7" fill="none"/><path d="M654.1,888.3 L684,888.3 L684,908.5 L686.9,908.5 L686.9,925 L684,925 L684,945.9 L654.1,945.9" stroke="#000" stroke-width="1.7" fill="none"/><rect x="674.7" y="819.3" width="12.2" height="23" fill="none" stroke="#000" stroke-width="1.6"/><rect x="674.7" y="991.7" width="12.2" height="23.3" fill="none" stroke="#000" stroke-width="1.6"/><path d="M720.2,850.8 L801.6,850.8 L808.4,857.7 L808.4,982.6 L720.2,982.6 Z" stroke="#000" stroke-width="1.7" fill="none"/><line x1="796" y1="783.5" x2="920.4" y2="783.5" stroke="#3a3232" stroke-width="1.0"/><line x1="732.5" y1="1050.4" x2="920.4" y2="1050.4" stroke="#3a3232" stroke-width="1.0"/><line x1="916" y1="783.5" x2="916" y2="1050.4" stroke="#3a3232" stroke-width="1.0"/><polygon points="916,783.5 914.4,791.5 917.6,791.5" fill="#3a3232"/><polygon points="916,1050.4 914.4,1042.4 917.6,1042.4" fill="#3a3232"/><text x="920.4" y="892.6" font-family="Liberation Serif" font-size="22.5" fill="#231815" text-anchor="start" letter-spacing="1.8" transform="rotate(90 920.4 892.6)">77.6</text><line x1="821" y1="823" x2="893.7" y2="823" stroke="#3a3232" stroke-width="1.0"/><line x1="821" y1="1010.3" x2="893.7" y2="1010.3" stroke="#3a3232" stroke-width="1.0"/><line x1="888.9" y1="823" x2="888.9" y2="1010.3" stroke="#3a3232" stroke-width="1.0"/><polygon points="888.9,823 887.3,831 890.5,831" fill="#3a3232"/><polygon points="888.9,1010.3 887.3,1002.3 890.5,1002.3" fill="#3a3232"/><text x="892.9" y="901" font-family="Liberation Serif" font-size="22.5" fill="#231815" text-anchor="start" letter-spacing="2" transform="rotate(90 892.9 901)">56</text><line x1="801" y1="850.3" x2="867" y2="850.3" stroke="#3a3232" stroke-width="1.0"/><line x1="808.4" y1="983" x2="867" y2="983" stroke="#3a3232" stroke-width="1.0"/><line x1="862.7" y1="850.3" x2="862.7" y2="983" stroke="#3a3232" stroke-width="1.0"/><polygon points="862.7,850.3 861.1,858.3 864.3000000000001,858.3" fill="#3a3232"/><polygon points="862.7,983 861.1,975 864.3000000000001,975" fill="#3a3232"/><text x="857.4" y="942.5" font-family="Liberation Serif" font-size="22.5" fill="#231815" text-anchor="start" letter-spacing="2.5" transform="rotate(-90 857.4 942.5)">38.4</text><line x1="654.1" y1="1089" x2="654.1" y2="1150.5" stroke="#3a3232" stroke-width="1.0"/><line x1="720.4" y1="982.6" x2="720.4" y2="1119" stroke="#3a3232" stroke-width="1.0"/><line x1="808.1" y1="982.6" x2="808.1" y2="1119" stroke="#3a3232" stroke-width="1.0"/><line x1="831.5" y1="918.6" x2="831.5" y2="1150.5" stroke="#3a3232" stroke-width="1.0"/><line x1="654.1" y1="1115.2" x2="808.1" y2="1115.2" stroke="#3a3232" stroke-width="1.0"/><polygon points="654.1,1115.2 662.1,1113.6000000000001 662.1,1116.8" fill="#3a3232"/><polygon points="720.4,1115.2 712.4,1113.6000000000001 712.4,1116.8" fill="#3a3232"/><polygon points="720.4,1115.2 728.4,1113.6000000000001 728.4,1116.8" fill="#3a3232"/><polygon points="808.1,1115.2 800.1,1113.6000000000001 800.1,1116.8" fill="#3a3232"/><text x="677" y="1113" font-family="Liberation Serif" font-size="22.5" fill="#231815" text-anchor="start" letter-spacing="2">19</text><text x="744.2" y="1113" font-family="Liberation Serif" font-size="22.5" fill="#231815" text-anchor="start" letter-spacing="2.5">25.4</text><line x1="654.1" y1="1145.5" x2="831.5" y2="1145.5" stroke="#3a3232" stroke-width="1.0"/><polygon points="654.1,1145.5 662.1,1143.9 662.1,1147.1" fill="#3a3232"/><polygon points="831.5,1145.5 823.5,1143.9 823.5,1147.1" fill="#3a3232"/><text x="717.3" y="1143.8" font-family="Liberation Serif" font-size="22.5" fill="#231815" text-anchor="start" letter-spacing="2.5">51.6</text></svg>
<div class="a" style="left:405px;top:589px;font-size:42px;line-height:56px;letter-spacing:3.7px;color:#111;-webkit-text-stroke:0.9px #111">外形尺寸</div>
<div class="a" style="left:834px;top:686px;font-size:20px;line-height:26px;color:#111;-webkit-text-stroke:0.7px #111">单位：<span style="margin-left:4px;letter-spacing:0.3px;font-size:23px;-webkit-text-stroke:0.4px #111">mm</span></div>
<div class="a" style="left:190px;top:1225px;font-size:30px;line-height:40px;letter-spacing:4.5px;color:#111;-webkit-text-stroke:1px #111">正面</div>
<div class="a" style="left:676px;top:1227px;font-size:30px;line-height:40px;letter-spacing:4.5px;color:#111;-webkit-text-stroke:1px #111">侧面</div>
<div class="a" style="left:121px;top:1367px;font-size:75px;line-height:100px;letter-spacing:5.8px;font-weight:700;color:#2b2b2b;-webkit-text-stroke:0.6px #2b2b2b">多种产品</div>
<div class="a" style="left:522.5px;top:1367px;font-size:75px;line-height:100px;letter-spacing:5.8px;font-weight:700;color:#2b2b2b;-webkit-text-stroke:0.6px #2b2b2b">满足需求</div>
<div class="c" style="left:24.3px;top:1551px;width:409.6px;height:67px;background:#ededed;border-radius:12px;box-shadow:1.5px 1.5px 0 0 #fff,2.2px 3px 2.5px rgba(0,0,0,0.2);font-size:31px;letter-spacing:2.2px;color:#111;padding-top:12px;box-sizing:border-box;-webkit-text-stroke:0.35px #111">简易<span style="font-size:35px;letter-spacing:-2.2px;margin-right:2px">PLC</span>中文一体机</div>
<div class="c" style="left:24.3px;top:1637px;width:409.6px;height:67px;background:#ededed;border-radius:12px;box-shadow:1.5px 1.5px 0 0 #fff,2.2px 3px 2.5px rgba(0,0,0,0.2);font-size:31px;letter-spacing:2.2px;color:#111;padding-top:12px;box-sizing:border-box;-webkit-text-stroke:0.35px #111">数据采集控制器</div>
<div class="c" style="left:24.3px;top:1721px;width:409.6px;height:68px;background:#ededed;border-radius:12px;box-shadow:1.5px 1.5px 0 0 #fff,2.2px 3px 2.5px rgba(0,0,0,0.2);font-size:31px;letter-spacing:2.2px;color:#111;padding-top:13.5px;box-sizing:border-box;-webkit-text-stroke:0.35px #111">数据采集记录器</div>
<div class="c" style="left:24.3px;top:1810px;width:409.6px;height:67px;background:#ededed;border-radius:12px;box-shadow:1.5px 1.5px 0 0 #fff,2.2px 3px 2.5px rgba(0,0,0,0.2);font-size:31px;letter-spacing:2.2px;color:#111;padding-top:12px;box-sizing:border-box;-webkit-text-stroke:0.35px #111">导轨多路巡检仪</div>
<div class="c" style="left:545px;top:1549.5px;width:410.2px;height:67px;background:#ededed;border-radius:12px;box-shadow:1.5px 1.5px 0 0 #fff,2.2px 3px 2.5px rgba(0,0,0,0.2);font-size:31px;letter-spacing:2.2px;color:#111;padding-top:15px;box-sizing:border-box;-webkit-text-stroke:0.35px #111">简易<span style="font-size:35px;letter-spacing:-2.2px;margin-right:2px">PLC</span>控制器</div>
<div class="c" style="left:545px;top:1635px;width:410.2px;height:68px;background:#ededed;border-radius:12px;box-shadow:1.5px 1.5px 0 0 #fff,2.2px 3px 2.5px rgba(0,0,0,0.2);font-size:31px;letter-spacing:2.2px;color:#111;padding-top:14.5px;box-sizing:border-box;-webkit-text-stroke:0.35px #111">导轨无纸记录仪</div>
<div class="c" style="left:545px;top:1721px;width:410.2px;height:67.5px;background:#ededed;border-radius:12px;box-shadow:1.5px 1.5px 0 0 #fff,2.2px 3px 2.5px rgba(0,0,0,0.2);font-size:31px;letter-spacing:2.2px;color:#111;padding-top:13.5px;box-sizing:border-box;-webkit-text-stroke:0.35px #111">导轨多路温控器</div>
<div class="c" style="left:545px;top:1811px;width:410.2px;height:67px;background:#ededed;border-radius:12px;box-shadow:1.5px 1.5px 0 0 #fff,2.2px 3px 2.5px rgba(0,0,0,0.2);font-size:31px;letter-spacing:2.2px;color:#111;padding-top:8px;box-sizing:border-box;-webkit-text-stroke:0.35px #111">导轨流量积算仪</div>
</body></html>
